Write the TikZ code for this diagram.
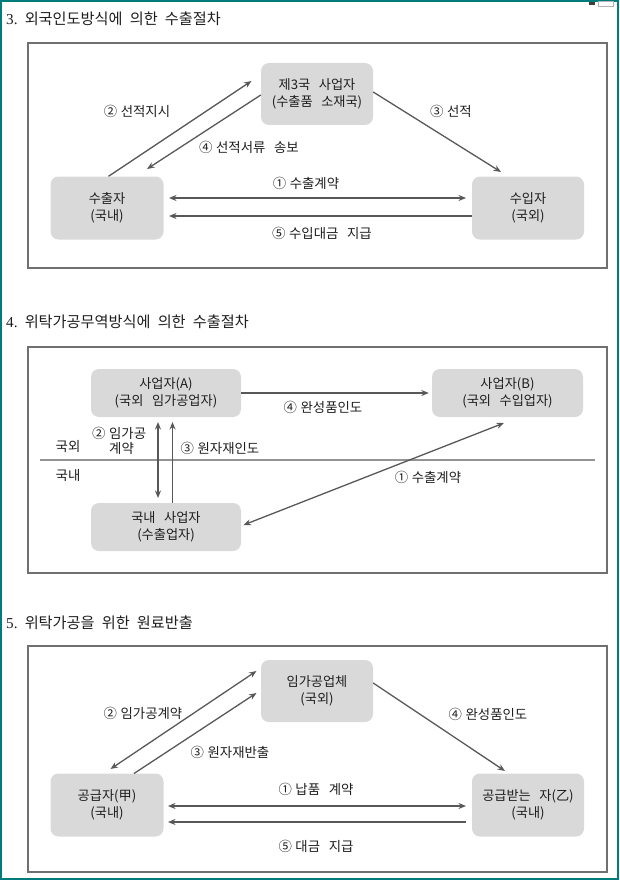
\documentclass[tikz,border=0pt]{standalone}
\usepackage{fontspec}
\setmainfont[WordSpace=2.1]{Noto Sans CJK KR}
\newfontfamily\widefont[WordSpace=2.9]{Noto Sans CJK KR}
\newfontfamily\numfont{Liberation Serif}
\usetikzlibrary{arrows.meta}
\newcommand\stepnum[1]{#1\hspace{3.5pt}}
\definecolor{boxfill}{RGB}{217,217,217}
\definecolor{arr}{RGB}{88,88,88}
\definecolor{framec}{RGB}{112,112,112}
\definecolor{tealc}{RGB}{0,124,124}
\definecolor{txt}{RGB}{30,30,30}
\tikzset{
  ent/.style={fill=boxfill, rounded corners=8pt, align=center, inner sep=0pt,
    text=txt, font=\widefont\fontsize{13.2}{16.5}\selectfont},
  lab/.style={inner sep=0pt, text=txt, font=\widefont\fontsize{13.4}{15}\selectfont},
  ttl/.style={inner sep=0pt, anchor=west, text=txt, font=\fontsize{15.2}{18}\selectfont},
  panel/.style={draw=framec, line width=1.6pt},
  conn/.style={draw=arr, line width=1.3pt, -{Stealth[length=7.5pt,width=6pt]}},
  twoway/.style={draw=arr, line width=1.3pt, {Stealth[length=7.5pt,width=6pt]}-{Stealth[length=7.5pt,width=6pt]}}
}
\begin{document}
\begin{tikzpicture}[x=1pt,y=-1pt]
\useasboundingbox (0,0) rectangle (619,880);
\draw[tealc, line width=2pt] (1,1) rectangle (618,879);
\fill[black!75] (589,2) rectangle (595,5);
\draw[black!30, line width=0.5pt] (598,1.5) rectangle (613,6);

% ---------------- Section 3 ----------------
\node[ttl] (t1) at (6,19) {{\numfont 3.}\ 외국인도방식에 의한 수출절차};
\draw[panel] (28,43) rectangle (607,268);
\node[ent, minimum width=112pt, minimum height=62pt] (third) at (317,94) {제3국 사업자\\(수출품 소재국)};
\node[ent, minimum width=113pt, minimum height=63pt] (exp) at (107,208) {수출자\\(국내)};
\node[ent, minimum width=112pt, minimum height=63pt] (imp) at (528,208) {수입자\\(국외)};
\coordinate (c2e) at (251.5,81);
\coordinate (c4e) at (147,169);
\coordinate (c3e) at (501,172);
\coordinate (c1a) at (169,198);
\coordinate (c1b) at (466,198);
\coordinate (c5e) at (169,216);
\draw[conn] ([xshift=1.5pt]exp.north) -- (c2e);
\draw[conn] ([yshift=-1pt]third.west) -- (c4e);
\draw[conn] ([yshift=2pt]third.east) -- (c3e);
\draw[twoway] (c1a) -- (c1b);
\draw[conn] (imp.west |- c5e) -- (c5e);
\node[lab] (l2) at (137,111) {\stepnum{②}선적지시};
\node[lab] (l3) at (451,111) {\stepnum{③}선적};
\node[lab] (l4) at (249,147) {\stepnum{④}선적서류 송보};
\node[lab] (l1) at (306,183) {\stepnum{①}수출계약};
\node[lab] (l5) at (322,233) {\stepnum{⑤}수입대금 지급};

% ---------------- Section 4 ----------------
\node[ttl] (t2) at (6,322) {{\numfont 4.}\ 위탁가공무역방식에 의한 수출절차};
\draw[panel] (28,347) rectangle (607,573);
\node[ent, minimum width=150pt, minimum height=48pt] (bA) at (166,393) {사업자(A)\\(국외 임가공업자)};
\node[ent, minimum width=151pt, minimum height=48pt] (bB) at (507.5,393) {사업자(B)\\(국외 수입업자)};
\node[ent, minimum width=150pt, minimum height=48pt] (dom) at (166,527) {국내 사업자\\(수출업자)};
\draw[black!42, line width=1.3pt] (39.5,460) -- (595,460);
\node[lab] (abroad) at (68,446) {국외};
\node[lab] (home) at (68,475) {국내};
\coordinate (v2a) at (158,422);
\coordinate (v2b) at (158,498);
\coordinate (v3e) at (172.5,422);
\coordinate (d1a) at (243.5,525);
\coordinate (d1b) at (504,423);
\draw[conn] (bA.east) -- ([xshift=-3pt]bB.west);
\draw[twoway] (v2a) -- (v2b);
\draw[conn] (dom.north -| v3e) -- (v3e);
\draw[twoway] (d1a) -- (d1b);
\node[lab] (m4) at (323,407) {\stepnum{④}완성품인도};
\node[lab, anchor=west] (m2) at (92,433) {\stepnum{②}임가공};
\node[lab] (m2b) at (121.5,448) {계약};
\node[lab] (m3) at (220,448) {\stepnum{③}원자재인도};
\node[lab] (m1) at (428,477) {\stepnum{①}수출계약};

% ---------------- Section 5 ----------------
\node[ttl] (t3) at (6,623) {{\numfont 5.}\ 위탁가공을 위한 원료반출};
\draw[panel] (28,646) rectangle (607,872);
\node[ent, minimum width=112pt, minimum height=62pt] (proc) at (317,691) {임가공업체\\(국외)};
\node[ent, minimum width=113pt, minimum height=63pt] (sup) at (107,805) {공급자(甲)\\(국내)};
\node[ent, minimum width=112pt, minimum height=63pt] (rec) at (528,805) {공급받는 자(乙)\\(국내)};
\coordinate (e2a) at (110.5,769);
\coordinate (e2b) at (256.5,671);
\coordinate (e3s) at (134,773.5);
\coordinate (e3e) at (256.5,693);
\coordinate (e4e) at (505,771);
\coordinate (e1a) at (168,806);
\coordinate (e1b) at (466,806);
\coordinate (e5e) at (168,822);
\draw[twoway] (e2a) -- (e2b);
\draw[conn] (e3s) -- (e3e);
\draw[conn] ([yshift=8pt]proc.east) -- (e4e);
\draw[twoway] (e1a) -- (e1b);
\draw[conn] ([xshift=-6pt]rec.west |- e5e) -- (e5e);
\node[lab] (n2) at (143,713) {\stepnum{②}임가공계약};
\node[lab] (n3) at (230,752) {\stepnum{③}원자재반출};
\node[lab] (n4) at (488,714) {\stepnum{④}완성품인도};
\node[lab] (n1) at (316,789) {\stepnum{①}납품 계약};
\node[lab] (n5) at (316,846) {\stepnum{⑤}대금 지급};
\end{tikzpicture}
\end{document}
